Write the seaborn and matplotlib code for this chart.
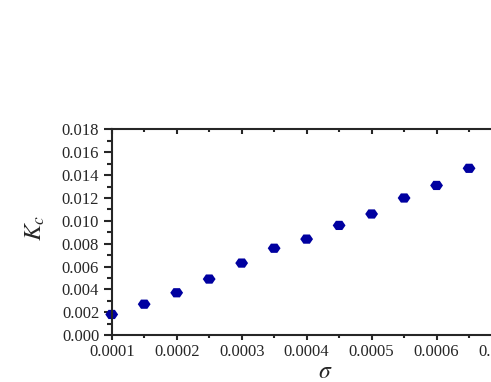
import numpy as np
import pandas as pd
import matplotlib
matplotlib.use("Agg")
import matplotlib.pyplot as plt
from matplotlib.ticker import MultipleLocator, FormatStrFormatter
import seaborn as sns

# data
sigma = [0.0001, 0.00015, 0.0002, 0.00025, 0.0003, 0.00035,
         0.0004, 0.00045, 0.0005, 0.00055, 0.0006, 0.00065]
kc = [0.0018, 0.0027, 0.0037, 0.0049, 0.0063, 0.0076,
      0.0084, 0.0096, 0.0106, 0.0120, 0.0131, 0.0146]

df = pd.DataFrame({"sigma": sigma, "Kc": kc})

sns.set_style("ticks")
plt.rcParams["font.family"] = ["Liberation Serif", "DejaVu Serif"]
plt.rcParams["mathtext.fontset"] = "stix"

fig = plt.figure(figsize=(4.91, 3.82), dpi=100)
ax = fig.add_axes([0.2275, 0.123, 0.794, 0.538])

# flattened hexagon, pointy at left and right
hexagon = [(-1, 0), (-0.5, 0.72), (0.5, 0.72), (1, 0), (0.5, -0.72), (-0.5, -0.72)]
sns.scatterplot(data=df, x="sigma", y="Kc", marker=hexagon, s=85,
                color="#0000A0", edgecolor="none", ax=ax, clip_on=False)

ax.set_xlim(0.0001, 0.0007)
ax.set_ylim(0, 0.018)
ax.xaxis.set_major_locator(MultipleLocator(0.0001))
ax.xaxis.set_minor_locator(MultipleLocator(0.00005))
ax.yaxis.set_major_locator(MultipleLocator(0.002))
ax.yaxis.set_minor_locator(MultipleLocator(0.001))
ax.xaxis.set_major_formatter(FormatStrFormatter("%.4f"))
ax.yaxis.set_major_formatter(FormatStrFormatter("%.3f"))

for sp in ax.spines.values():
    sp.set_linewidth(1.5)
    sp.set_visible(True)

ax.tick_params(axis="both", which="both", labelsize=12, width=1.5)
ax.tick_params(axis="y", which="major", length=6, pad=3)
ax.tick_params(axis="y", which="minor", length=3.5)
ax.tick_params(axis="x", which="major", length=3.5, pad=3)
ax.tick_params(axis="x", which="minor", length=2.5)
ax.tick_params(axis="x", which="both", top=True, direction="out")
ax.tick_params(axis="y", which="both", direction="out")

ax.set_xlabel(r"$\sigma$", fontsize=17)
ax.set_ylabel(r"$K_c$", fontsize=18)
ax.xaxis.set_label_coords(0.547, -0.13)
ax.yaxis.set_label_coords(-0.165, 0.52)

# top ticks point inward
for t in ax.xaxis.get_major_ticks() + ax.xaxis.get_minor_ticks():
    t.tick2line.set_marker(3)

fig.savefig("out.png", dpi=100)
